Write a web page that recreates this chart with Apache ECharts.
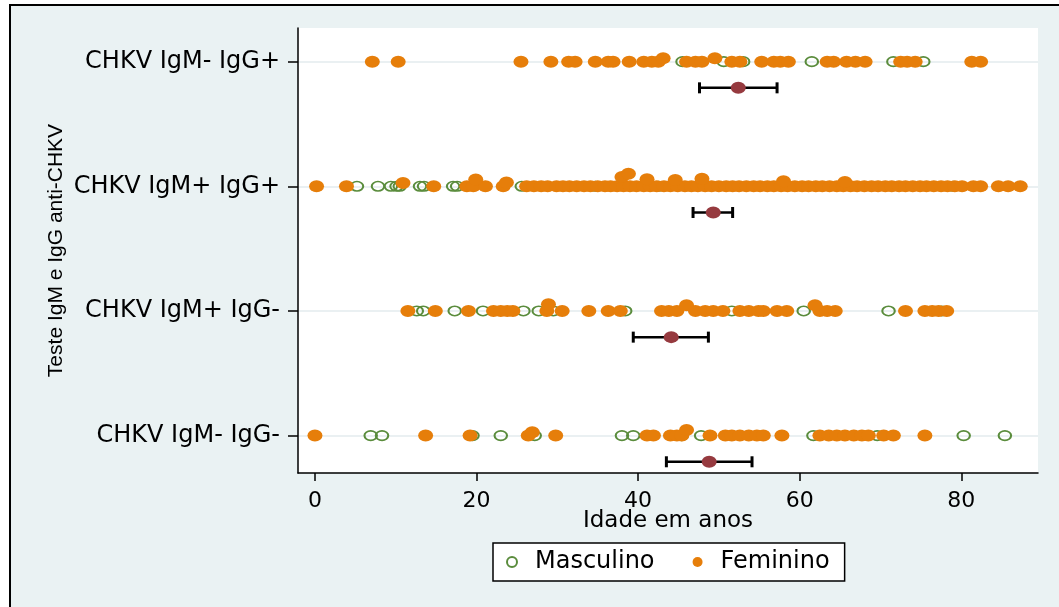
<!DOCTYPE html>
<html>
<head>
<meta charset="utf-8">
<script src="https://cdn.jsdelivr.net/npm/echarts@6/dist/echarts.min.js"></script>
<style>
  body { margin: 0; background: #fff; overflow: hidden; }
  #frame { position: absolute; left: 9px; top: 4px; width: 1100px; height: 700px;
           background: #eaf2f3; border-left: 2.5px solid #000; border-top: 2.5px solid #000; }
  #chart { position: absolute; left: 0; top: 0; width: 1059px; height: 607px; }
</style>
</head>
<body>
<div id="frame"></div>
<div id="chart"></div>
<script>
// grupos, de baixo para cima
var grupos = ['CHKV IgM- IgG-', 'CHKV IgM+ IgG-', 'CHKV IgM+ IgG+', 'CHKV IgM- IgG+'];
var xTicks = [0, 20, 40, 60, 80];

// idades (anos), por grupo
var femIgMnIgGn = [0.0, 13.7, 19.2, 26.4, 29.8, 41.1, 41.9, 44.0, 44.8, 45.4, 48.9, 50.8, 51.6, 52.6,
  53.7, 54.7, 55.5, 57.8, 62.5, 63.6, 64.6, 65.6, 66.7, 67.7, 68.5, 70.4, 71.6, 75.5];
var mascIgMnIgGn = [6.9, 8.3, 19.5, 23.0, 27.2, 38.0, 39.4, 45.4, 47.8, 61.7, 69.6, 80.3, 85.4];

var femIgMpIgGn = [11.5, 14.9, 19.0, 22.1, 23.0, 23.8, 24.5, 28.7, 30.6, 33.9, 36.3, 37.8, 42.9, 43.8,
  44.8, 47.1, 48.3, 49.3, 50.5, 52.6, 53.7, 54.9, 55.5, 57.2, 58.4, 62.5, 63.4, 64.4, 73.1, 75.5,
  76.4, 77.2, 78.2];
var mascIgMpIgGn = [12.6, 13.4, 17.3, 20.8, 25.8, 27.7, 29.5, 38.4, 51.6, 60.5, 71.0, 77.6];

var femIgMpIgGp = [0.2, 3.9, 14.7, 18.8, 19.6, 21.1, 23.3, 26.2, 27.1, 28.0, 28.8, 29.9, 30.7, 31.5,
  32.4, 33.3, 34.1, 35.0, 35.9, 36.6, 37.4, 38.2, 39.0, 39.8, 40.7, 41.5, 42.3, 43.2, 44.0, 44.9,
  45.8, 46.6, 47.4, 48.3, 49.1, 50.0, 50.9, 51.7, 52.5, 53.4, 54.3, 55.1, 56.0, 56.8, 57.7, 58.5,
  59.4, 60.3, 61.1, 62.0, 62.8, 63.7, 64.6, 65.4, 66.3, 67.1, 68.0, 68.9, 69.7, 70.6, 71.4, 72.3,
  73.1, 74.0, 74.9, 75.7, 76.6, 77.5, 78.3, 79.2, 80.1, 81.5, 82.4, 84.6, 85.8, 87.3];
var mascIgMpIgGp = [5.2, 7.8, 9.4, 10.1, 10.5, 13.0, 13.5, 17.1, 17.6, 25.6, 34.7, 42.5, 79.0];

var femIgMnIgGp = [7.1, 10.3, 25.5, 29.2, 31.4, 32.2, 34.7, 36.3, 36.9, 38.9, 40.7, 41.7, 42.5, 46.0,
  47.1, 47.9, 51.6, 52.6, 55.3, 56.8, 57.6, 58.6, 63.4, 64.2, 65.8, 66.9, 68.1, 72.5, 73.3, 74.3,
  81.3, 82.4];
var mascIgMnIgGp = [45.5, 50.6, 53.0, 61.5, 71.6, 75.3];

// pontos repetidos (deslocados para cima no grafico): [idade, deslocamento]
var femRepetidos = [
  [[26.9, 0.027], [46.0, 0.045]],
  [[28.9, 0.053], [46.0, 0.045], [61.9, 0.045]],
  [[10.9, 0.027], [19.9, 0.054], [23.7, 0.03], [38.0, 0.075], [38.8, 0.1], [41.1, 0.056],
   [44.6, 0.05], [47.9, 0.06], [58.0, 0.04], [65.6, 0.035]],
  [[43.1, 0.027], [49.5, 0.027]]
];

// media e IC95% por grupo
var mediaIdade = [48.8, 44.1, 49.3, 52.4];
var icInf = [43.5, 39.4, 46.8, 47.6];
var icSup = [54.1, 48.7, 51.7, 57.2];

var DESLOC_MEDIA = 0.21;
var fem = [femIgMnIgGn, femIgMpIgGn, femIgMpIgGp, femIgMnIgGp];
var masc = [mascIgMnIgGn, mascIgMpIgGn, mascIgMpIgGp, mascIgMnIgGp];

function pontos(listas) {
  var out = [];
  listas.forEach(function (l, g) { l.forEach(function (v) { out.push([v, g]); }); });
  return out;
}
var femDados = pontos(fem);
femRepetidos.forEach(function (l, g) {
  l.forEach(function (p) { femDados.push([p[0], g + p[1]]); });
});

var fonte = 'DejaVu Sans';
var chart = echarts.init(document.getElementById('chart'));
chart.setOption({
  backgroundColor: 'transparent',
  animation: false,
  grid: { left: 298, top: 28, width: 740, height: 445, show: true, backgroundColor: '#fff', borderWidth: 0 },
  xAxis: {
    type: 'value', min: -2.1, max: 89.5,
    name: 'Idade em anos', nameLocation: 'middle', nameGap: 37, nameMoveOverlap: false,
    nameTextStyle: { fontFamily: fonte, fontSize: 23, color: '#000' },
    axisLine: { onZero: false, lineStyle: { color: '#000', width: 1.5 } },
    axisTick: { customValues: xTicks, length: 8, lineStyle: { color: '#000', width: 1.5 } },
    axisLabel: { customValues: xTicks, margin: 17, fontFamily: fonte, fontSize: 22, color: '#000' },
    splitLine: { show: false }
  },
  yAxis: {
    type: 'value', min: -0.3, max: 3.27,
    name: 'Teste IgM e IgG anti-CHKV', nameLocation: 'middle', nameGap: 231, nameMoveOverlap: false,
    nameTextStyle: { fontFamily: 'Liberation Sans', fontSize: 21, color: '#000' },
    axisLine: { show: true, onZero: false, lineStyle: { color: '#000', width: 1.5 } },
    axisTick: { show: true, customValues: [0, 1, 2, 3], length: 10, lineStyle: { color: '#000', width: 1.5 } },
    axisLabel: {
      customValues: [0, 1, 2, 3], margin: 18, fontFamily: fonte, fontSize: 24, color: '#000',
      formatter: function (v) { return grupos[Math.round(v)]; }
    },
    splitLine: { show: true, lineStyle: { color: '#e3ebee', width: 1.5 } }
  },
  legend: {
    data: ['Masculino', 'Feminino'],
    left: 493, top: 543,
    itemWidth: 36, itemHeight: 10, itemGap: 38,
    padding: [7, 15, 7, 13],
    backgroundColor: '#fff', borderColor: '#000', borderWidth: 1.5,
    textStyle: { fontFamily: fonte, fontSize: 24, color: '#000', lineHeight: 24 }
  },
  series: [
    {
      name: 'Masculino', type: 'scatter', data: pontos(masc),
      symbol: 'circle', symbolSize: [12.5, 9.5], z: 2,
      itemStyle: { color: 'rgba(255,255,255,0)', borderColor: '#5a8c3c', borderWidth: 1.8, opacity: 1 },
      emphasis: { disabled: true }
    },
    {
      name: 'Feminino', type: 'scatter', data: femDados,
      symbol: 'circle', symbolSize: [15, 12], z: 3,
      itemStyle: { color: '#e67e0a', opacity: 1 },
      emphasis: { disabled: true }
    },
    {
      name: 'IC95', type: 'custom', z: 4,
      data: icInf.map(function (lo, i) { return [lo, icSup[i], i - DESLOC_MEDIA]; }),
      encode: { x: [0, 1], y: 2 },
      renderItem: function (params, api) {
        var a = api.coord([api.value(0), api.value(2)]);
        var b = api.coord([api.value(1), api.value(2)]);
        var h = 5.5, st = { stroke: '#000', lineWidth: 2.5 };
        return { type: 'group', children: [
          { type: 'line', shape: { x1: a[0], y1: a[1], x2: b[0], y2: b[1] }, style: st },
          { type: 'line', shape: { x1: a[0], y1: a[1] - h, x2: a[0], y2: a[1] + h }, style: { stroke: '#000', lineWidth: 3 } },
          { type: 'line', shape: { x1: b[0], y1: b[1] - h, x2: b[0], y2: b[1] + h }, style: { stroke: '#000', lineWidth: 3 } }
        ] };
      }
    },
    {
      name: 'Media', type: 'scatter', z: 5,
      data: mediaIdade.map(function (m, i) { return [m, i - DESLOC_MEDIA]; }),
      symbol: 'circle', symbolSize: [15, 12],
      itemStyle: { color: '#963a3f', opacity: 1 },
      emphasis: { disabled: true }
    }
  ]
});
</script>
</body>
</html>
